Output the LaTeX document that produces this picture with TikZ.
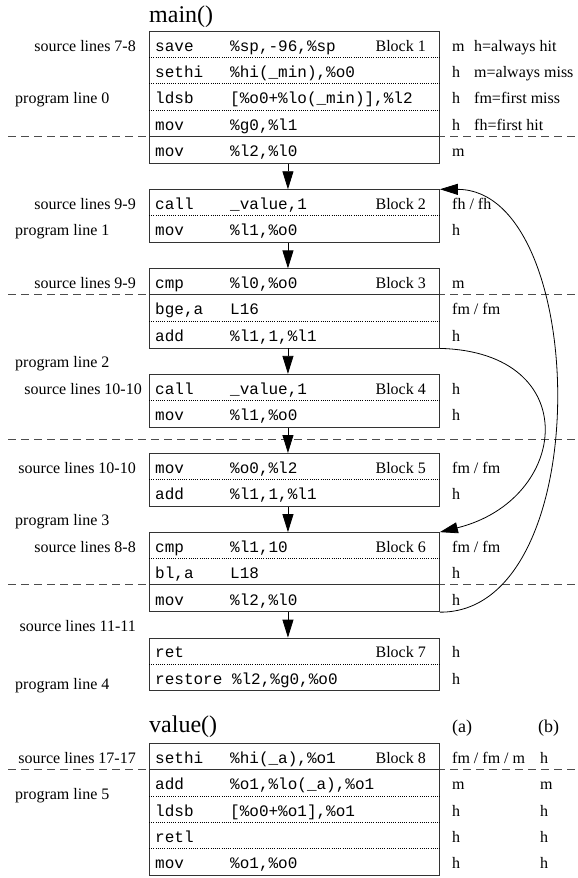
\documentclass[tikz,border=0pt]{standalone}
\usepackage{fontspec}
\setmainfont{Liberation Serif}
\setmonofont{Liberation Mono}
\usetikzlibrary{arrows.meta}

\tikzset{
  blk/.style={draw=black!80, line width=0.9pt, minimum width=290pt, inner sep=0pt, anchor=north west},
  rule/.style={black!80, line width=0.9pt},
  sep/.style={line width=0.6pt, dash pattern=on 0.8pt off 1.4pt},
  cut/.style={black!70, line width=1.1pt, dash pattern=on 8pt off 5pt},
  flow/.style={line width=0.8pt, -{Triangle[length=18pt,width=11pt]}},
  op/.style={anchor=base west, inner sep=0pt, font=\ttfamily\fontsize{16}{18}\selectfont},
  lbl/.style={anchor=base west, inner sep=0pt, font=\fontsize{16}{18}\selectfont},
  hd/.style={anchor=base west, inner sep=0pt, font=\fontsize{24}{28}\selectfont}
}

\begin{document}
\begin{tikzpicture}[x=1pt,y=-1pt]
\def\R{26.375}
\def\base#1{31+(#1+0.5)*\R+7}

\useasboundingbox (0,0) rectangle (578,878);

\foreach \j in {4,10,15.5,21,28}{
    \draw[cut] (8,{31+\j*\R}) -- (578,{31+\j*\R});
}

\foreach \n/\k/\m in {1/0/5, 2/6/2, 3/9/3, 4/13/2, 5/16/2, 6/19/3, 7/23/2, 8/27/5}{
    \node[blk, minimum height={\m*\R}] (B\n) at (149,{31+\k*\R}) {};
    \node[lbl, anchor=base east] (tag\n) at (426,{\base{\k}}) {Block \n};
}

\foreach \n/\j in {1/1,1/2,1/3,2/1,3/2,4/1,5/1,6/1,7/1,8/2,8/3,8/4}
    \draw[sep] ([yshift={-\j*\R}]B\n.north west) -- ([yshift={-\j*\R}]B\n.north east);
\foreach \n/\j in {1/4,3/1,6/2,8/1}
    \draw[rule] ([yshift={-\j*\R}]B\n.north west) -- ([yshift={-\j*\R}]B\n.north east);

\node[hd] (mainhd) at (149,22) {main()};
\node[hd] (valuehd) at (149,732) {value()};
\node[lbl, font=\fontsize{18}{20}\selectfont] (hda) at (452,732) {(a)};
\node[lbl, font=\fontsize{18}{20}\selectfont] (hdb) at (538,732) {(b)};

\foreach \k/\op/\arg/\hit in {
    0/save/{\%sp,-96,\%sp}/m,
    1/sethi/{\%hi(\_min),\%o0}/h,
    2/ldsb/{[\%o0+\%lo(\_min)],\%l2}/h,
    3/mov/{\%g0,\%l1}/h,
    4/mov/{\%l2,\%l0}/m,
    6/call/{\_value,1}/{fh / fh},
    7/mov/{\%l1,\%o0}/h,
    9/cmp/{\%l0,\%o0}/m,
    10/{bge,a}/L16/{fm / fm},
    11/add/{\%l1,1,\%l1}/h,
    13/call/{\_value,1}/h,
    14/mov/{\%l1,\%o0}/h,
    16/mov/{\%o0,\%l2}/{fm / fm},
    17/add/{\%l1,1,\%l1}/h,
    19/cmp/{\%l1,10}/{fm / fm},
    20/{bl,a}/L18/h,
    21/mov/{\%l2,\%l0}/h,
    23/ret/{}/h,
    24/{restore \%l2,\%g0,\%o0}/{}/h,
    27/sethi/{\%hi(\_a),\%o1}/{fm / fm / m},
    28/add/{\%o1,\%lo(\_a),\%o1}/m,
    29/ldsb/{[\%o0+\%o1],\%o1}/h,
    30/retl/{}/h,
    31/mov/{\%o1,\%o0}/h}{
    \node[op] (op\k) at (155,{\base{\k}}) {\op};
    \node[op] (arg\k) at (230,{\base{\k}}) {\arg};
    \node[lbl] (hit\k) at (452,{\base{\k}}) {\hit};
}

\foreach \k/\hit in {27/h,28/m,29/h,30/h,31/h}
    \node[lbl] (hb\k) at (540,{\base{\k}}) {\hit};

\foreach \k/\txt in {0/h=always hit,1/m=always miss,2/fm=first miss,3/fh=first hit}
    \node[lbl] (leg\k) at (474,{\base{\k}}) {\txt};

\foreach \k/\txt/\x in {0/7-8/136,6/9-9/136,9/9-9/136,13/10-10/142,16/10-10/136,19/8-8/136,22/11-11/136,27/17-17/136}
    \node[lbl, anchor=base east] (src\k) at (\x,{\base{\k}}) {source lines \txt};

\foreach \n/\y in {0/{\base{2}},1/{\base{7}},2/{\base{12}},3/{\base{18}},4/{\base{24}+5.6},5/{\base{28}+9.4}}
    \node[lbl] (prog\n) at (15,{\y}) {program line \n};

\foreach \a/\b in {1/2,2/3,3/4,4/5,5/6,6/7}
    \draw[flow] ([xshift=-6.5pt]B\a.south) -- ([xshift=-6.5pt]B\b.north);

\draw[flow] (B6.south east) .. controls (598,613) and (590,190) .. (B2.north east);
\draw[flow] (B3.south east) .. controls (585,352) and (570,500) .. (B6.north east);

\end{tikzpicture}
\end{document}
